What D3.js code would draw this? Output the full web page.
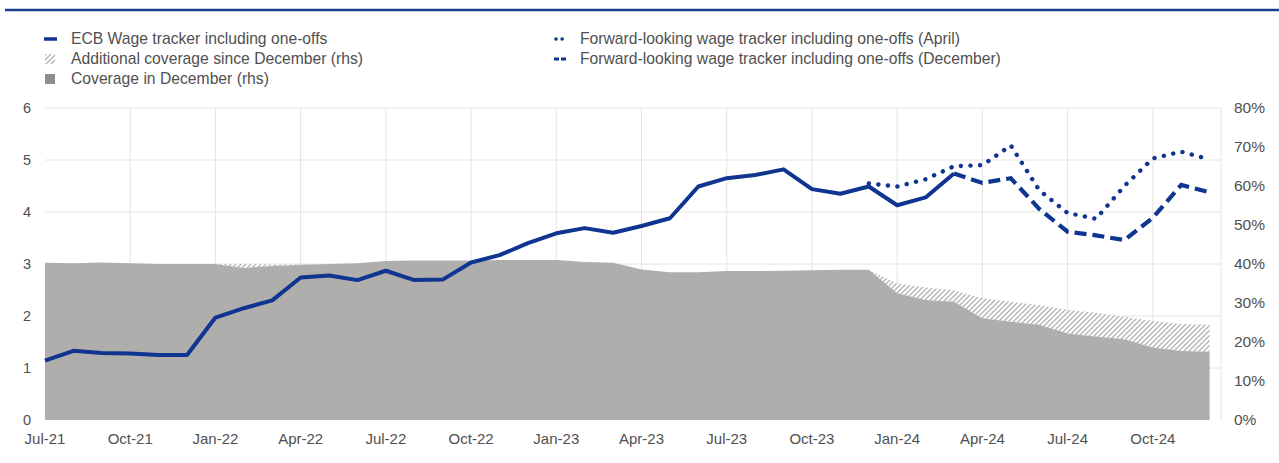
<!DOCTYPE html>
<html>
<head>
<meta charset="utf-8">
<script src="https://cdn.jsdelivr.net/npm/d3@7"></script>
<style>
  html, body { margin: 0; padding: 0; background: #ffffff; }
  svg { display: block; }
  text { font-family: "Liberation Sans", Arial, sans-serif; fill: #505050; }
</style>
</head>
<body>
<div id="chart"></div>
<script>
// Months on the x axis, Jul-21 .. Dec-24
const months = [
  'Jul-21', 'Aug-21', 'Sep-21', 'Oct-21', 'Nov-21', 'Dec-21',
  'Jan-22', 'Feb-22', 'Mar-22', 'Apr-22', 'May-22', 'Jun-22',
  'Jul-22', 'Aug-22', 'Sep-22', 'Oct-22', 'Nov-22', 'Dec-22',
  'Jan-23', 'Feb-23', 'Mar-23', 'Apr-23', 'May-23', 'Jun-23',
  'Jul-23', 'Aug-23', 'Sep-23', 'Oct-23', 'Nov-23', 'Dec-23',
  'Jan-24', 'Feb-24', 'Mar-24', 'Apr-24', 'May-24', 'Jun-24',
  'Jul-24', 'Aug-24', 'Sep-24', 'Oct-24', 'Nov-24', 'Dec-24',
];
const xTickLabels = ['Jul-21', 'Oct-21', 'Jan-22', 'Apr-22', 'Jul-22', 'Oct-22', 'Jan-23', 'Apr-23', 'Jul-23', 'Oct-23', 'Jan-24', 'Apr-24', 'Jul-24', 'Oct-24'];
const leftTicks = [0, 1, 2, 3, 4, 5, 6];
const rightTicks = [0, 10, 20, 30, 40, 50, 60, 70, 80];

// ECB wage tracker incl. one-offs (% y-o-y), Jul-21 .. Mar-24
const wageTracker = [
  1.14, 1.33, 1.29, 1.28, 1.25, 1.25,
  1.97, 2.15, 2.30, 2.74, 2.78, 2.69,
  2.87, 2.69, 2.70, 3.03, 3.17, 3.40,
  3.59, 3.69, 3.60, 3.73, 3.88, 4.49,
  4.65, 4.71, 4.82, 4.44, 4.35, 4.49,
  4.13, 4.28, 4.74,
];
// Forward-looking tracker (April), Dec-23 .. Dec-24
const forwardAprilStart = 'Dec-23';
const forwardApril = [4.55, 4.49, 4.63, 4.88, 4.90, 5.28, 4.42, 3.98, 3.87, 4.50, 5.03, 5.16, 5.01];
// Forward-looking tracker (December), Mar-24 .. Dec-24
const forwardDecStart = 'Mar-24';
const forwardDecember = [4.74, 4.56, 4.65, 4.06, 3.62, 3.55, 3.46, 3.89, 4.52, 4.38];

// Coverage in December (rhs, %), Jul-21 .. Dec-24
const coverageDecember = [
  40.3, 40.2, 40.4, 40.2, 40.0, 40.0,
  40.0, 39.0, 39.5, 39.8, 40.0, 40.2,
  40.8, 40.9, 40.9, 40.9, 41.0, 41.0,
  41.0, 40.5, 40.3, 38.6, 37.9, 37.9,
  38.2, 38.2, 38.3, 38.4, 38.5, 38.5,
  32.5, 30.8, 30.3, 26.1, 25.2, 24.4,
  22.2, 21.4, 20.7, 18.6, 17.7, 17.5,
];
// Additional coverage since December (rhs, pp on top of December coverage)
const coverageAdditional = [
  0, 0, 0, 0, 0, 0,
  0, 1.0, 0.4, 0.1, 0, 0,
  0, 0, 0, 0, 0, 0,
  0, 0, 0, 0, 0, 0,
  0, 0, 0, 0, 0, 0,
  2.5, 3.2, 3.0, 5.1, 5.1, 5.1,
  6.0, 6.1, 5.8, 6.8, 6.9, 6.9,
];

const legendLeft = ['ECB Wage tracker including one-offs', 'Additional coverage since December (rhs)', 'Coverage in December (rhs)'];
const legendRight = ['Forward-looking wage tracker including one-offs (April)', 'Forward-looking wage tracker including one-offs (December)'];

const width = 1279;
const height = 463;
const blue = '#0f3591';
const grey = '#b0adad';
const gridColor = '#e4e4e4';
const plot = { left: 45, right: 1221, top: 108, bottom: 420 };

const svg = d3.select('#chart').append('svg').attr('width', width).attr('height', height);

// Hatch pattern for additional coverage
const defs = svg.append('defs');
const hatch = defs.append('pattern')
  .attr('id', 'hatch')
  .attr('patternUnits', 'userSpaceOnUse')
  .attr('width', 5)
  .attr('height', 5);
hatch.append('rect').attr('width', 5).attr('height', 5).attr('fill', '#ffffff');
hatch.append('path')
  .attr('d', 'M-1,1 l2,-2 M0,5 l5,-5 M4,6 l2,-2')
  .attr('stroke', '#b4b4b4')
  .attr('stroke-width', 1.4);

// Scales: month index on x, equal spacing per month
const x = d3.scaleLinear().domain([0, 41.4]).range([plot.left, plot.right]);
const yLeft = d3.scaleLinear().domain([0, 6]).range([plot.bottom, plot.top]);
const yRight = d3.scaleLinear().domain([0, 80]).range([plot.bottom, plot.top]);

// Top rule
svg.append('line')
  .attr('x1', 5).attr('x2', width)
  .attr('y1', 10).attr('y2', 10)
  .attr('stroke', '#1d3c8f')
  .attr('stroke-width', 2.5);

// Gridlines
const grid = svg.append('g');
grid.selectAll('line.h')
  .data(leftTicks.filter((d) => d > 0))
  .join('line')
  .attr('class', 'h')
  .attr('x1', plot.left).attr('x2', plot.right)
  .attr('y1', (d) => yLeft(d)).attr('y2', (d) => yLeft(d))
  .attr('stroke', gridColor);
grid.selectAll('line.v')
  .data(xTickLabels.slice(1).map((m) => months.indexOf(m)).concat([41.4]))
  .join('line')
  .attr('class', 'v')
  .attr('x1', (d) => x(d)).attr('x2', (d) => x(d))
  .attr('y1', plot.top).attr('y2', plot.bottom)
  .attr('stroke', gridColor);

// Coverage areas (rhs)
const coverage = months.map((m, i) => ({ i, dec: coverageDecember[i], add: coverageAdditional[i] }));

const areaDec = d3.area()
  .x((d) => x(d.i))
  .y0(yRight(0))
  .y1((d) => yRight(d.dec));
const areaAdd = d3.area()
  .x((d) => x(d.i))
  .y0((d) => yRight(d.dec))
  .y1((d) => yRight(d.dec + d.add));

svg.append('path').datum(coverage).attr('d', areaAdd).attr('fill', 'url(#hatch)');
svg.append('path').datum(coverage).attr('d', areaDec).attr('fill', grey);

// Wage tracker lines (lhs)
const line = d3.line().x((d) => x(d.i)).y((d) => yLeft(d.v));
const toPoints = (values, start) => values.map((v, k) => ({ i: months.indexOf(start) + k, v }));

svg.append('path')
  .datum(toPoints(forwardDecember, forwardDecStart))
  .attr('d', line)
  .attr('fill', 'none')
  .attr('stroke', blue)
  .attr('stroke-width', 4.2)
  .attr('stroke-dasharray', '12 6');

svg.append('path')
  .datum(toPoints(forwardApril, forwardAprilStart))
  .attr('d', line)
  .attr('fill', 'none')
  .attr('stroke', blue)
  .attr('stroke-width', 4.4)
  .attr('stroke-linecap', 'round')
  .attr('stroke-dasharray', '0.1 9.5');

svg.append('path')
  .datum(toPoints(wageTracker, 'Jul-21'))
  .attr('d', line)
  .attr('fill', 'none')
  .attr('stroke', blue)
  .attr('stroke-width', 4)
  .attr('stroke-linejoin', 'round');

// Axes labels
svg.append('g').selectAll('text')
  .data(leftTicks)
  .join('text')
  .attr('x', 27)
  .attr('y', (d) => yLeft(d))
  .attr('dy', '0.35em')
  .attr('text-anchor', 'middle')
  .style('font-size', '14.5px')
  .text((d) => d);

svg.append('g').selectAll('text')
  .data(rightTicks)
  .join('text')
  .attr('x', 1234)
  .attr('y', (d) => yRight(d))
  .attr('dy', '0.35em')
  .style('font-size', '15.5px')
  .text((d) => `${d}%`);

svg.append('g').selectAll('text')
  .data(xTickLabels)
  .join('text')
  .attr('x', (d) => x(months.indexOf(d)))
  .attr('y', 444)
  .attr('text-anchor', 'middle')
  .style('font-size', '15px')
  .text((d) => d);

// Legend
const legend = svg.append('g').style('font-size', '15.7px');
const rowY = (k) => 39 + k * 20;

legend.append('line')
  .attr('x1', 44).attr('x2', 57).attr('y1', rowY(0)).attr('y2', rowY(0))
  .attr('stroke', blue).attr('stroke-width', 3.5);
legend.append('rect')
  .attr('x', 45).attr('y', rowY(1) - 5).attr('width', 10).attr('height', 10)
  .attr('fill', 'url(#hatch)');
legend.append('rect')
  .attr('x', 45).attr('y', rowY(2) - 5).attr('width', 10).attr('height', 10)
  .attr('fill', '#8f8c8c');
legend.selectAll('text.l')
  .data(legendLeft)
  .join('text')
  .attr('class', 'l')
  .attr('x', 71)
  .attr('y', (d, k) => rowY(k))
  .attr('dy', '0.35em')
  .text((d) => d);

legend.append('line')
  .attr('x1', 556).attr('x2', 568).attr('y1', rowY(0)).attr('y2', rowY(0))
  .attr('stroke', blue).attr('stroke-width', 3.5)
  .attr('stroke-linecap', 'round')
  .attr('stroke-dasharray', '0.1 6');
legend.append('line')
  .attr('x1', 554).attr('x2', 568).attr('y1', rowY(1)).attr('y2', rowY(1))
  .attr('stroke', blue).attr('stroke-width', 3)
  .attr('stroke-dasharray', '5 2');
legend.selectAll('text.r')
  .data(legendRight)
  .join('text')
  .attr('class', 'r')
  .attr('x', 580)
  .attr('y', (d, k) => rowY(k))
  .attr('dy', '0.35em')
  .text((d) => d);
</script>
</body>
</html>
